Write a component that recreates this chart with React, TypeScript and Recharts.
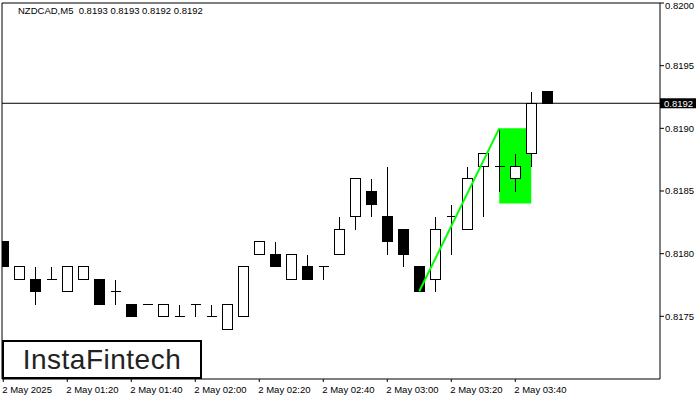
import React from 'react';
import { ComposedChart, Bar, XAxis, YAxis, ReferenceLine, ReferenceArea } from 'recharts';

const title = 'NZDCAD,M5  0.8193 0.8193 0.8192 0.8192';
const logoText = 'InstaFintech';

const timeTickIndex = [0, 4, 8, 12, 16, 20, 24, 28, 32];
const timeLabels = [
  '2 May 2025', '2 May 01:20', '2 May 01:40', '2 May 02:00', '2 May 02:20',
  '2 May 02:40', '2 May 03:00', '2 May 03:20', '2 May 03:40',
];

const opens = [
  0.8181, 0.8178, 0.8178, 0.8178, 0.8177, 0.8178, 0.8178, 0.8177, 0.8176, 0.8176,
  0.8175, 0.8175, 0.8176, 0.8175, 0.8174, 0.8175, 0.8180, 0.8180, 0.8178, 0.8179,
  0.8179, 0.8180, 0.8183, 0.8185, 0.8183, 0.8182, 0.8179, 0.8178, 0.8183, 0.8182,
  0.8187, 0.8187, 0.8186, 0.8188, 0.8193,
];
const highs = [
  0.8181, 0.8179, 0.8179, 0.8179, 0.8179, 0.8179, 0.8178, 0.8178, 0.8176, 0.8176,
  0.8176, 0.8176, 0.8176, 0.8176, 0.8176, 0.8179, 0.8181, 0.8181, 0.8180, 0.8180,
  0.8179, 0.8183, 0.8186, 0.8186, 0.8187, 0.8182, 0.8179, 0.8183, 0.8184, 0.8187,
  0.8188, 0.8190, 0.8188, 0.8193, 0.8193,
];
const lows = [
  0.8179, 0.8178, 0.8176, 0.8178, 0.8177, 0.8178, 0.8176, 0.8176, 0.8175, 0.8176,
  0.8175, 0.8175, 0.8175, 0.8175, 0.8174, 0.8175, 0.8180, 0.8179, 0.8178, 0.8178,
  0.8178, 0.8180, 0.8182, 0.8183, 0.8180, 0.8179, 0.8177, 0.8177, 0.8180, 0.8182,
  0.8183, 0.8185, 0.8185, 0.8187, 0.8192,
];
const closes = [
  0.8179, 0.8179, 0.8177, 0.8178, 0.8179, 0.8179, 0.8176, 0.8177, 0.8175, 0.8176,
  0.8176, 0.8175, 0.8176, 0.8175, 0.8176, 0.8179, 0.8181, 0.8179, 0.8180, 0.8178,
  0.8179, 0.8182, 0.8186, 0.8184, 0.8181, 0.8180, 0.8177, 0.8182, 0.8183, 0.8186,
  0.8188, 0.8187, 0.8187, 0.8192, 0.8192,
];

const priceTicks = [0.8175, 0.818, 0.8185, 0.819, 0.8195, 0.82];
const priceDomain = [0.817, 0.82];
const indexDomain = [-0.08, 41.045];
const currentPrice = 0.8192;
const boxIndex = [31, 33];
const boxPrice = [0.8184, 0.819];
const trendIndex = [26, 31];
const trendPrice = [0.8177, 0.819];

const data = opens.map((o, i) => ({
  i,
  o,
  h: highs[i],
  l: lows[i],
  c: closes[i],
  range: [lows[i], highs[i]],
}));

const FONT = '"Liberation Sans", Arial, sans-serif';

const Candle = (props: any) => {
  const { x, y, width, height, payload } = props;
  if (!payload) return null;
  const cx = Math.round(x + width / 2) + 0.5;
  const { o, h, l, c } = payload;
  const span = h - l;
  const k = span > 0 ? height / span : 0;
  const py = (v: number) => y + (h - v) * k;
  const top = Math.round(py(Math.max(o, c))) + 0.5;
  const bot = Math.round(py(Math.min(o, c))) + 0.5;
  const hi = Math.round(py(h)) + 0.5;
  const lo = Math.round(py(l)) + 0.5;
  return (
    <g shapeRendering="crispEdges">
      {lo > hi && <line x1={cx} x2={cx} y1={hi} y2={lo} stroke="#000" strokeWidth={1} />}
      {bot - top < 1 ? (
        <line x1={cx - 5} x2={cx + 5} y1={top} y2={top} stroke="#000" strokeWidth={1} />
      ) : (
        <rect x={cx - 5} y={top} width={10} height={bot - top} fill={c > o ? '#fff' : '#000'} stroke="#000" strokeWidth={1} />
      )}
    </g>
  );
};

const XTick = (props: any) => {
  const { x, y, payload } = props;
  const idx = timeTickIndex.indexOf(payload.value);
  return (
    <text x={x - 1} y={y} dy="0.71em" textAnchor="start" fontSize={9.5} fontFamily={FONT} fill="#000">
      {idx >= 0 ? timeLabels[idx] : ''}
    </text>
  );
};

const YTick = (props: any) => {
  const { x, y, payload } = props;
  return (
    <text x={x} y={Math.max(y, 5.5)} dy="0.35em" textAnchor="start" fontSize={9.5} fontFamily={FONT} fill="#000">
      {Number(payload.value).toFixed(4)}
    </text>
  );
};

const PriceLabel = (props: any) => {
  const vb = props.viewBox || {};
  const x0 = vb.x + vb.width;
  return (
    <g>
      <rect x={x0} y={vb.y - 5} width={36} height={10} fill="#000" />
      <text x={x0 + 4} y={vb.y} dy="0.35em" fontSize={9.5} fontFamily={FONT} fill="#fff">
        {currentPrice.toFixed(4)}
      </text>
    </g>
  );
};

export default function App() {
  return (
    <div style={{ position: 'absolute', left: 0, top: 0, width: 700, height: 400, background: '#fff', overflow: 'hidden' }}>
      <ComposedChart width={700} height={400} data={data} margin={{ top: 3, right: 0, bottom: 0, left: 2 }}>
        <XAxis
          dataKey="i"
          type="number"
          domain={indexDomain}
          allowDataOverflow
          ticks={timeTickIndex}
          tick={<XTick />}
          tickSize={3}
          tickMargin={4}
          height={21}
          axisLine={{ stroke: '#000' }}
          tickLine={{ stroke: '#000' }}
          interval={0}
        />
        <YAxis
          orientation="right"
          type="number"
          domain={priceDomain}
          allowDataOverflow
          ticks={priceTicks}
          tick={<YTick />}
          tickSize={4}
          tickMargin={1}
          width={40}
          axisLine={{ stroke: '#000' }}
          tickLine={{ stroke: '#000' }}
          interval={0}
        />
        <ReferenceLine y={priceDomain[1]} stroke="#000" ifOverflow="visible" />
        <ReferenceLine x={indexDomain[0]} stroke="#000" ifOverflow="visible" />
        <ReferenceArea
          x1={boxIndex[0]}
          x2={boxIndex[1]}
          y1={boxPrice[0]}
          y2={boxPrice[1]}
          fill="#00ff00"
          fillOpacity={1}
          stroke="none"
          ifOverflow="visible"
        />
        <ReferenceLine y={currentPrice} stroke="#000" ifOverflow="visible" label={<PriceLabel />} />
        <Bar dataKey="range" barSize={10} shape={<Candle />} isAnimationActive={false} />
        <ReferenceLine
          segment={[
            { x: trendIndex[0], y: trendPrice[0] },
            { x: trendIndex[1], y: trendPrice[1] },
          ]}
          stroke="#00ff00"
          strokeWidth={2}
          ifOverflow="visible"
        />
      </ComposedChart>
      <div style={{ position: 'absolute', left: 18, top: 5, fontSize: 9.5, fontFamily: FONT, whiteSpace: 'pre', color: '#000', lineHeight: '12px' }}>
        {title}
      </div>
      <div
        style={{
          position: 'absolute',
          left: 2,
          top: 340,
          width: 196,
          height: 35,
          border: '2px solid #000',
          background: '#fff',
          display: 'flex',
          alignItems: 'center',
          justifyContent: 'center',
          fontFamily: FONT,
          fontSize: 28,
          fontWeight: 500,
          letterSpacing: 0.5,
          color: '#222',
        }}
      >
        {logoText}
      </div>
    </div>
  );
}
